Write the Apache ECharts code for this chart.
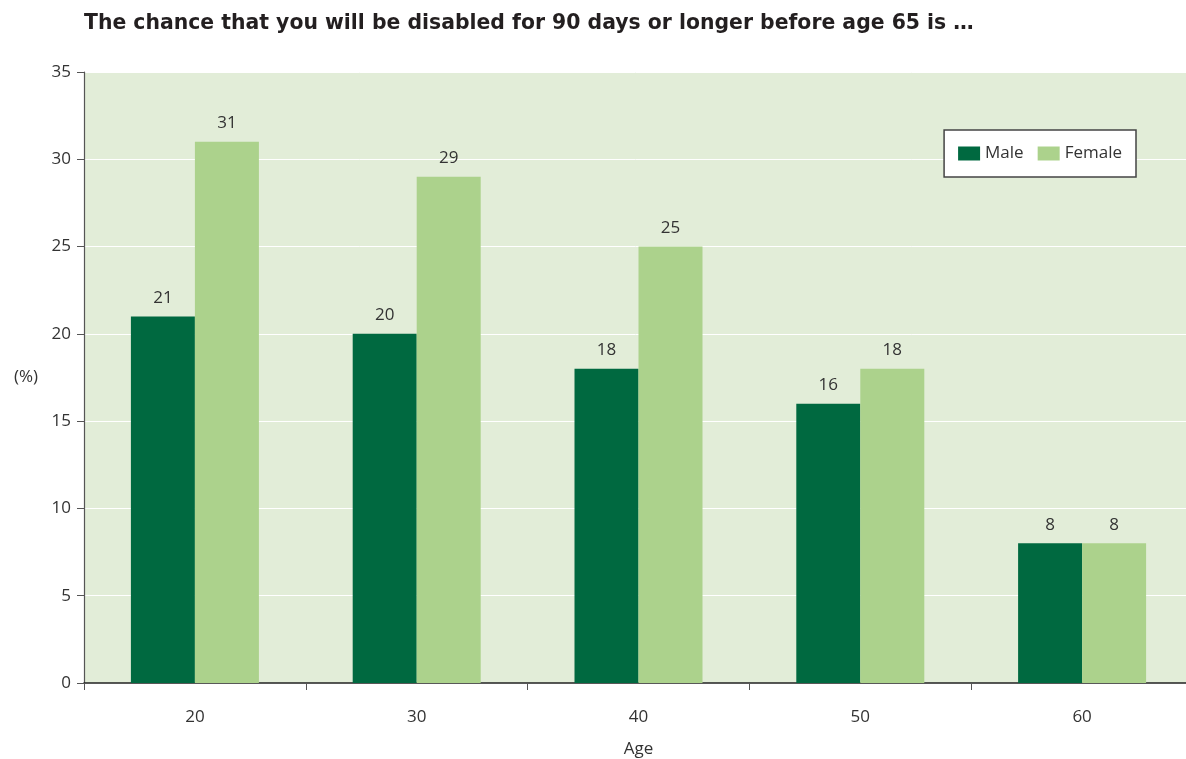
<!DOCTYPE html>
<html><head><meta charset="utf-8">
<script src="https://cdn.jsdelivr.net/npm/echarts@6/dist/echarts.min.js"></script>
<style>html,body{margin:0;padding:0;background:#fff}#c{width:1186px;height:759px}</style>
</head><body><div id="c"></div>
<script>
const categories = ['20', '30', '40', '50', '60'];
const maleValues = [21, 20, 18, 16, 8];
const femaleValues = [31, 29, 25, 18, 8];
const yTicks = [0, 5, 10, 15, 20, 25, 30, 35];

const chart = echarts.init(document.getElementById('c'), null, {renderer: 'canvas'});
const font = '"Open Sans", "Noto Sans", sans-serif';
chart.setOption({
  animation: false,
  textStyle: {fontFamily: font},
  title: {
    text: 'The chance that you will be disabled for 90 days or longer before age 65 is …',
    left: 79, top: 9,
    textStyle: {fontSize: 20.4, fontWeight: 'bold', color: '#231f20', fontFamily: '"DejaVu Sans", sans-serif'}
  },
  legend: {
    right: 50, top: 130,
    padding: [15, 14, 15, 14],
    backgroundColor: '#fff',
    borderColor: '#444',
    borderWidth: 1.5,
    borderRadius: 0,
    icon: 'rect',
    itemWidth: 22, itemHeight: 14, itemGap: 14,
    textStyle: {fontSize: 17, color: '#333', fontFamily: font},
    data: ['Male', 'Female']
  },
  grid: {left: 84, width: 1109, top: 72, height: 611, outerBoundsMode: 'none', containLabel: false,
         backgroundColor: '#e2edd8', show: true, borderWidth: 0},
  xAxis: {
    type: 'category', data: categories,
    name: 'Age', nameLocation: 'middle', nameGap: 58,
    nameTextStyle: {fontSize: 17, color: '#333'},
    axisLine: {lineStyle: {color: '#222', width: 1.5}},
    axisTick: {show: true, length: 7, lineStyle: {color: '#555'}},
    axisLabel: {fontSize: 17, color: '#333', margin: 26}
  },
  yAxis: {
    type: 'value', min: 0, max: 35, interval: 5,
    name: '(%)', nameLocation: 'middle', nameGap: 46, nameRotate: 0,
    nameTextStyle: {fontSize: 17, color: '#333'},
    axisLine: {show: true, lineStyle: {color: '#555', width: 1.2}},
    axisTick: {show: true, length: 7, lineStyle: {color: '#555'}},
    axisLabel: {fontSize: 17, color: '#333', margin: 13},
    splitLine: {show: true, lineStyle: {color: '#ffffff', width: 1}}
  },
  series: [
    {name: 'Male', type: 'bar', data: maleValues, barWidth: 64, barGap: '0%',
     itemStyle: {color: '#006940'},
     label: {show: true, position: 'top', distance: 10, fontSize: 17, color: '#333'}},
    {name: 'Female', type: 'bar', data: femaleValues, barWidth: 64,
     itemStyle: {color: '#acd28c'},
     label: {show: true, position: 'top', distance: 10, fontSize: 17, color: '#333'}}
  ]
});
</script></body></html>
